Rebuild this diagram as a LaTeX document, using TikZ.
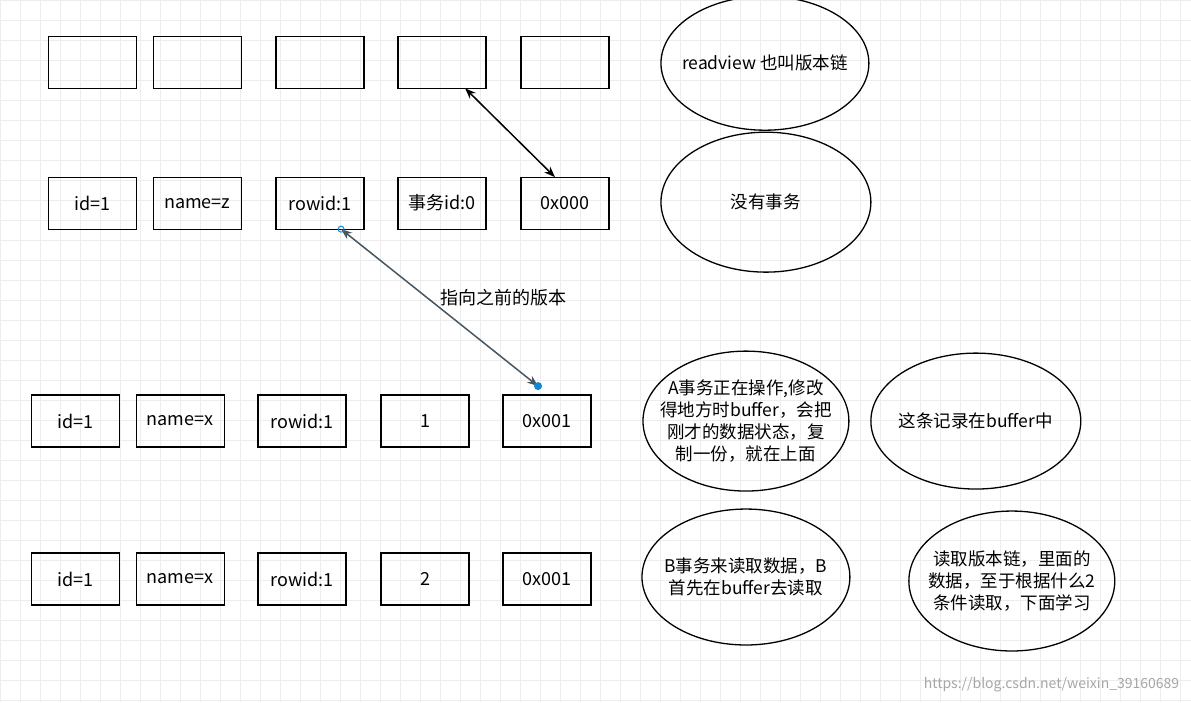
\documentclass[tikz,border=0pt]{standalone}
\usepackage{fontspec}
\setmainfont{Noto Sans CJK SC}
\usetikzlibrary{shapes.geometric,arrows.meta}
\begin{document}
\begin{tikzpicture}[x=1pt,y=-1pt,
  bx/.style={draw,line width=1.3pt,minimum width=88pt,minimum height=52pt,inner sep=0pt,font=\fontsize{18}{21}\selectfont},
  el/.style={draw,line width=1.3pt,ellipse,inner sep=-14pt,align=center,font=\fontsize{17.5}{22}\selectfont},
  dar/.style={line width=1.5pt,{Stealth[length=11pt]}-{Stealth[length=11pt]}}]
\fill[white](0,0) rectangle (1191,702);
\foreach \i in {0,20,...,1180}{\draw[black!7,line width=0.5pt] (\i,0) -- (\i,702);}
\foreach \i in {0,20,...,700}{\draw[black!7,line width=0.5pt] (0,\i) -- (1191,\i);}
\useasboundingbox (0,0) rectangle (1191,702);
% row1
\foreach \x/\n in {92/a1,197/a2,320/a3,442/a4,565/a5}{\node[bx] (\n) at (\x,62) {};}
% row2
\node[bx] (b1) at (92,203) {id=1};
\node[bx] (b2) at (197,203) {name=z};
\node[bx] (b3) at (320,203) {rowid:1};
\node[bx] (b4) at (442,203) {事务id:0};
\node[bx] (b5) at (565,203) {0x000};
% row3
\node[bx] (c1) at (75,421) {id=1};
\node[bx] (c2) at (180,421) {name=x};
\node[bx] (c3) at (302,421) {rowid:1};
\node[bx] (c4) at (425,421) {1};
\node[bx] (c5) at (547,421) {0x001};
% row4
\node[bx] (d1) at (75,579) {id=1};
\node[bx] (d2) at (180,579) {name=x};
\node[bx] (d3) at (302,579) {rowid:1};
\node[bx] (d4) at (425,579) {2};
\node[bx] (d5) at (547,579) {0x001};
% ellipses
\node[el,minimum width=208pt,minimum height=134pt] (e1) at (765,63) {readview 也叫版本链};
\node[el,minimum width=210pt,minimum height=140pt] (e2) at (766,202) {没有事务};
\node[el,minimum width=206pt,minimum height=140pt] (e3) at (746,421) {A事务正在操作,修改\\得地方时buffer，会把\\刚才的数据状态，复\\制一份，就在上面};
\node[el,minimum width=210pt,minimum height=136pt] (e4) at (976,421) {这条记录在buffer中};
\node[el,minimum width=208pt,minimum height=136pt] (e5) at (746,577) {B事务来读取数据，B\\首先在buffer去读取};
\node[el,minimum width=206pt,minimum height=140pt] (e6) at (1012,581) {读取版本链，里面的\\数据，至于根据什么2\\条件读取，下面学习};
% arrows
\coordinate (p1) at (465,88); \coordinate (p2) at (555,177);
\draw[dar] (p1) -- (p2);
\coordinate (q1) at (341,229); \coordinate (q2) at (538,386);
\draw[dar,draw=black!70!cyan] (q1) -- (q2);
\node[font=\fontsize{18}{21}\selectfont] (lbl) at (503,298) {指向之前的版本};
\fill[cyan!70!blue] (q2) circle (4);
\draw[cyan!70!blue,line width=1pt] (q1) circle (3);
\node[text=black!35,font=\fontsize{14}{16}\selectfont,anchor=south east] (wm) at (1183,696) {https://blog.csdn.net/weixin\_39160689};
\end{tikzpicture}
\end{document}
